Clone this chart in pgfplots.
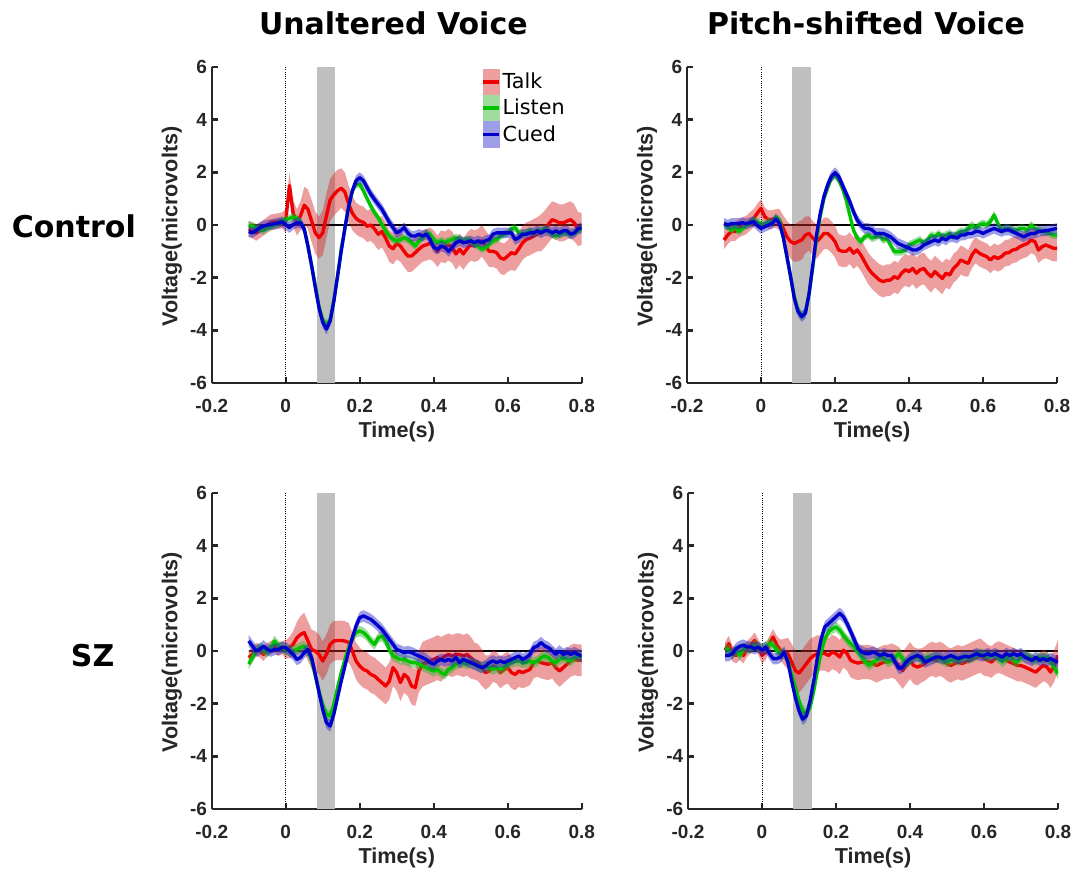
\documentclass[border=0pt]{standalone}
\usepackage{fontspec}
\setmainfont{Liberation Sans}
\newfontfamily\dejavu{DejaVu Sans}
\usepackage{pgfplots}
\pgfplotsset{compat=1.18}
\usepgfplotslibrary{fillbetween}
\usepackage{pgfplotstable}

\definecolor{axgray}{RGB}{38,38,38}
\definecolor{shade}{RGB}{191,191,191}
\definecolor{cred}{RGB}{240,0,0}
\definecolor{cgreen}{RGB}{0,195,0}
\definecolor{cblue}{RGB}{0,0,205}
\definecolor{bred}{RGB}{215,40,40}
\definecolor{bgreen}{RGB}{40,180,40}
\definecolor{bblue}{RGB}{40,40,200}

\newcommand\tickfont{\fontsize{14.25}{16}\selectfont\bfseries}
\newcommand\labfont{\fontsize{16.2}{19}\selectfont\bfseries}
\newcommand\legfont{\dejavu\fontsize{15.5}{18}\selectfont}
\newcommand\titlefont{\dejavu\bfseries\fontsize{22.5}{27}\selectfont}

% columns: time, Talk mean, Talk half-band, Listen mean, Cued mean
\pgfplotstableread{
t r re g b
-0.10 -0.15 0.30 0.00 -0.25
-0.09 -0.20 0.30 -0.05 -0.30
-0.08 -0.30 0.30 -0.10 -0.20
-0.07 -0.20 0.30 -0.15 -0.10
-0.06 -0.10 0.30 -0.22 -0.04
-0.05 0.00 0.30 -0.10 0.00
-0.04 0.10 0.30 -0.05 0.02
-0.03 0.12 0.30 0.00 0.05
-0.02 0.15 0.30 0.08 0.08
-0.01 0.18 0.30 0.15 0.12
0.00 0.15 0.45 0.20 0.02
0.01 1.50 0.50 0.25 -0.10
0.02 0.45 0.50 0.30 0.02
0.03 0.10 0.50 0.25 0.08
0.04 0.35 0.55 0.10 0.08
0.05 0.75 0.70 -0.15 -0.15
0.06 0.60 0.75 -0.80 -0.80
0.07 0.15 0.80 -1.55 -1.55
0.08 -0.30 0.80 -2.30 -2.38
0.09 -0.48 0.80 -3.10 -3.15
0.10 -0.30 0.85 -3.60 -3.70
0.11 0.35 0.85 -3.78 -3.95
0.12 0.95 0.80 -3.60 -3.65
0.13 1.15 0.80 -2.85 -2.90
0.14 1.30 0.80 -1.95 -1.95
0.15 1.40 0.75 -0.90 -1.00
0.16 1.25 0.75 -0.15 -0.10
0.17 0.80 0.70 0.70 0.70
0.18 0.45 0.65 1.30 1.30
0.19 0.25 0.60 1.55 1.68
0.20 0.15 0.60 1.55 1.80
0.21 0.10 0.60 1.30 1.68
0.22 -0.05 0.60 1.00 1.42
0.23 0.00 0.60 0.72 1.17
0.24 -0.15 0.60 0.47 0.97
0.25 -0.35 0.60 0.28 0.78
0.26 -0.25 0.60 0.02 0.60
0.27 -0.50 0.60 -0.22 0.35
0.28 -0.80 0.60 -0.42 0.10
0.29 -0.90 0.60 -0.55 -0.10
0.30 -0.70 0.60 -0.60 -0.30
0.31 -0.80 0.60 -0.55 -0.22
0.32 -1.00 0.60 -0.48 -0.10
0.33 -1.18 0.60 -0.55 -0.30
0.34 -1.18 0.60 -0.67 -0.42
0.35 -1.05 0.60 -0.80 -0.42
0.36 -0.92 0.60 -0.60 -0.35
0.37 -0.80 0.60 -0.48 -0.42
0.38 -0.75 0.60 -0.30 -0.35
0.39 -0.70 0.60 -0.35 -0.55
0.40 -0.80 0.60 -0.55 -0.85
0.41 -1.00 0.60 -0.67 -0.92
0.42 -0.80 0.60 -0.60 -0.80
0.43 -0.85 0.60 -0.67 -0.85
0.44 -0.75 0.60 -0.60 -1.00
0.45 -0.85 0.60 -0.55 -0.85
0.46 -1.10 0.60 -0.48 -0.67
0.47 -0.92 0.60 -0.55 -0.60
0.48 -1.10 0.60 -0.60 -0.67
0.49 -0.90 0.60 -0.55 -0.65
0.50 -0.75 0.60 -0.60 -0.60
0.51 -0.80 0.60 -0.73 -0.67
0.52 -0.75 0.60 -0.80 -0.60
0.53 -0.60 0.60 -0.92 -0.67
0.54 -0.80 0.60 -0.85 -0.60
0.55 -1.00 0.60 -0.73 -0.55
0.56 -1.00 0.60 -0.60 -0.35
0.57 -1.05 0.60 -0.55 -0.30
0.58 -1.25 0.60 -0.42 -0.30
0.59 -1.30 0.60 -0.35 -0.30
0.60 -1.18 0.60 -0.30 -0.30
0.61 -1.05 0.65 -0.15 -0.30
0.62 -1.10 0.65 -0.10 -0.55
0.63 -0.90 0.65 -0.30 -0.48
0.64 -0.68 0.65 -0.35 -0.35
0.65 -0.55 0.65 -0.30 -0.35
0.66 -0.50 0.65 -0.22 -0.30
0.67 -0.42 0.65 -0.30 -0.30
0.68 -0.35 0.65 -0.22 -0.22
0.69 -0.30 0.70 -0.22 -0.30
0.70 -0.15 0.70 -0.15 -0.22
0.71 0.03 0.70 -0.22 -0.22
0.72 0.20 0.70 -0.35 -0.30
0.73 0.15 0.70 -0.42 -0.22
0.74 0.08 0.70 -0.35 -0.30
0.75 0.08 0.70 -0.30 -0.22
0.76 0.15 0.70 -0.30 -0.22
0.77 0.20 0.70 -0.35 -0.35
0.78 0.08 0.70 -0.30 -0.30
0.79 -0.15 0.65 -0.22 -0.15
0.80 -0.15 0.60 -0.15 -0.10
}\TLdata

\pgfplotstableread{
t r re g b
-0.10 -0.57 0.35 0.00 0.06
-0.09 -0.38 0.35 -0.04 0.00
-0.08 -0.25 0.35 -0.20 0.06
-0.07 -0.25 0.35 -0.06 0.06
-0.06 -0.13 0.35 -0.25 0.06
-0.05 -0.06 0.35 -0.13 0.09
-0.04 0.00 0.35 0.00 0.04
-0.03 0.13 0.35 0.06 0.09
-0.02 0.25 0.35 0.20 0.13
-0.01 0.45 0.35 0.10 -0.02
0.00 0.63 0.35 0.06 -0.13
0.01 0.32 0.35 0.00 -0.06
0.02 0.20 0.35 0.13 0.00
0.03 0.22 0.35 0.06 0.06
0.04 0.25 0.35 0.30 0.22
0.05 0.20 0.40 0.20 0.06
0.06 -0.13 0.50 -0.45 -0.45
0.07 -0.45 0.60 -1.20 -1.20
0.08 -0.63 0.65 -1.96 -1.96
0.09 -0.70 0.70 -2.72 -2.78
0.10 -0.63 0.75 -3.22 -3.29
0.11 -0.57 0.75 -3.48 -3.48
0.12 -0.38 0.70 -3.30 -3.35
0.13 -0.32 0.65 -2.60 -2.60
0.14 -0.50 0.65 -1.58 -1.52
0.15 -0.63 0.65 -0.57 -0.38
0.16 -0.50 0.60 0.32 0.44
0.17 -0.32 0.60 1.00 1.08
0.18 -0.32 0.60 1.40 1.52
0.19 -0.45 0.60 1.77 1.84
0.20 -0.63 0.60 1.90 1.99
0.21 -0.95 0.60 1.70 1.84
0.22 -1.00 0.60 1.40 1.52
0.23 -1.00 0.60 0.95 1.20
0.24 -0.88 0.60 0.38 0.89
0.25 -1.07 0.60 -0.20 0.50
0.26 -0.95 0.60 -0.50 0.19
0.27 -1.14 0.60 -0.63 0.00
0.28 -1.40 0.60 -0.45 -0.13
0.29 -1.65 0.60 -0.38 -0.13
0.30 -1.83 0.60 -0.50 -0.19
0.31 -1.96 0.60 -0.45 -0.32
0.32 -2.09 0.60 -0.38 -0.32
0.33 -2.15 0.60 -0.57 -0.32
0.34 -2.10 0.60 -0.50 -0.38
0.35 -2.09 0.60 -0.76 -0.45
0.36 -1.96 0.60 -1.01 -0.57
0.37 -2.03 0.60 -1.01 -0.70
0.38 -1.83 0.60 -1.01 -0.76
0.39 -1.70 0.60 -0.95 -0.82
0.40 -1.77 0.60 -0.76 -0.88
0.41 -1.65 0.60 -0.70 -0.95
0.42 -1.83 0.60 -0.63 -0.95
0.43 -1.70 0.60 -0.57 -0.88
0.44 -1.65 0.60 -0.70 -0.76
0.45 -1.83 0.60 -0.57 -0.70
0.46 -1.96 0.60 -0.38 -0.63
0.47 -1.77 0.60 -0.45 -0.57
0.48 -1.90 0.60 -0.32 -0.63
0.49 -2.03 0.60 -0.45 -0.50
0.50 -1.83 0.55 -0.38 -0.57
0.51 -1.90 0.55 -0.32 -0.45
0.52 -1.65 0.55 -0.45 -0.45
0.53 -1.52 0.55 -0.32 -0.50
0.54 -1.33 0.55 -0.25 -0.38
0.55 -1.40 0.55 -0.25 -0.38
0.56 -1.46 0.50 -0.13 -0.32
0.57 -1.14 0.50 0.00 -0.32
0.58 -0.95 0.50 -0.13 -0.25
0.59 -1.07 0.50 0.00 -0.25
0.60 -1.14 0.50 0.06 -0.32
0.61 -1.20 0.50 0.00 -0.25
0.62 -1.33 0.50 0.13 -0.19
0.63 -1.20 0.50 0.38 -0.13
0.64 -1.27 0.50 0.06 -0.19
0.65 -1.20 0.50 -0.20 -0.25
0.66 -1.07 0.50 -0.13 -0.19
0.67 -1.05 0.50 -0.13 -0.19
0.68 -0.95 0.50 -0.20 -0.25
0.69 -0.92 0.50 -0.20 -0.32
0.70 -0.82 0.50 -0.13 -0.38
0.71 -0.76 0.50 -0.13 -0.45
0.72 -0.70 0.50 -0.20 -0.38
0.73 -0.57 0.50 0.00 -0.32
0.74 -0.63 0.50 -0.13 -0.32
0.75 -0.95 0.50 -0.20 -0.25
0.76 -0.82 0.50 -0.25 -0.23
0.77 -0.76 0.50 -0.25 -0.22
0.78 -0.82 0.50 -0.32 -0.19
0.79 -0.88 0.50 -0.38 -0.16
0.80 -0.88 0.50 -0.38 -0.13
}\TRdata

\pgfplotstableread{
t r re g b
-0.10 -0.25 0.25 -0.50 0.38
-0.09 -0.13 0.25 -0.25 0.19
-0.08 0.06 0.25 0.00 0.00
-0.07 0.00 0.25 0.13 0.06
-0.06 -0.13 0.25 0.06 0.19
-0.05 0.06 0.25 -0.06 0.06
-0.04 0.13 0.25 0.13 0.00
-0.03 0.19 0.25 0.38 0.06
-0.02 0.06 0.25 0.19 0.06
-0.01 0.13 0.25 0.13 0.13
0.00 0.06 0.35 0.06 0.13
0.01 0.13 0.40 0.00 0.00
0.02 0.25 0.50 0.00 -0.13
0.03 0.50 0.60 0.06 -0.32
0.04 0.63 0.70 0.13 -0.25
0.05 0.70 0.75 0.19 -0.06
0.06 0.38 0.75 0.00 0.06
0.07 0.06 0.75 -0.38 -0.25
0.08 0.00 0.75 -0.95 -0.89
0.09 -0.13 0.75 -1.52 -1.58
0.10 -0.38 0.75 -2.03 -2.22
0.11 -0.13 0.75 -2.40 -2.72
0.12 0.25 0.75 -2.47 -2.85
0.13 0.38 0.75 -2.03 -2.40
0.14 0.40 0.75 -1.39 -1.77
0.15 0.40 0.75 -0.82 -1.14
0.16 0.38 0.75 -0.32 -0.57
0.17 0.32 0.75 0.13 0.00
0.18 0.00 0.70 0.50 0.50
0.19 -0.38 0.70 0.70 0.95
0.20 -0.57 0.70 0.76 1.27
0.21 -0.70 0.70 0.70 1.33
0.22 -0.76 0.70 0.57 1.27
0.23 -0.89 0.70 0.38 1.20
0.24 -0.95 0.70 0.25 1.08
0.25 -1.08 0.70 0.50 0.95
0.26 -1.20 0.70 0.57 0.82
0.27 -1.33 0.70 0.38 0.63
0.28 -1.14 0.70 0.06 0.44
0.29 -0.63 0.70 -0.19 0.25
0.30 -0.82 0.70 -0.25 0.06
0.31 -1.20 0.70 -0.32 0.00
0.32 -0.89 0.70 -0.32 -0.06
0.33 -1.01 0.70 -0.38 -0.03
0.34 -1.33 0.70 -0.44 -0.06
0.35 -1.39 0.70 -0.44 -0.13
0.36 -0.76 0.80 -0.50 -0.19
0.37 -0.50 0.85 -0.57 -0.25
0.38 -0.44 0.85 -0.63 -0.32
0.39 -0.38 0.85 -0.70 -0.44
0.40 -0.32 0.85 -0.76 -0.50
0.41 -0.25 0.85 -0.70 -0.38
0.42 -0.32 0.85 -0.82 -0.32
0.43 -0.19 0.80 -0.89 -0.38
0.44 -0.13 0.80 -0.70 -0.32
0.45 -0.19 0.80 -0.63 -0.38
0.46 -0.13 0.80 -0.50 -0.25
0.47 -0.13 0.80 -0.44 -0.44
0.48 -0.19 0.80 -0.44 -0.32
0.49 -0.13 0.80 -0.50 -0.38
0.50 -0.25 0.80 -0.44 -0.44
0.51 -0.38 0.70 -0.50 -0.50
0.52 -0.44 0.70 -0.57 -0.57
0.53 -0.63 0.70 -0.63 -0.63
0.54 -0.82 0.65 -0.57 -0.57
0.55 -0.76 0.60 -0.63 -0.44
0.56 -0.57 0.60 -0.70 -0.38
0.57 -0.63 0.60 -0.63 -0.44
0.58 -0.82 0.60 -0.70 -0.38
0.59 -0.70 0.60 -0.63 -0.44
0.60 -0.63 0.60 -0.50 -0.38
0.61 -0.82 0.60 -0.44 -0.32
0.62 -0.89 0.60 -0.38 -0.25
0.63 -0.76 0.60 -0.38 -0.19
0.64 -0.82 0.60 -0.44 -0.32
0.65 -0.76 0.60 -0.44 -0.25
0.66 -0.70 0.60 -0.38 -0.13
0.67 -0.44 0.60 -0.44 0.13
0.68 -0.38 0.60 -0.38 0.19
0.69 -0.44 0.60 -0.25 0.32
0.70 -0.48 0.60 -0.19 0.19
0.71 -0.50 0.60 -0.25 0.13
0.72 -0.44 0.60 -0.38 0.00
0.73 -0.63 0.60 -0.44 -0.13
0.74 -0.76 0.60 -0.32 0.00
0.75 -0.63 0.60 -0.25 -0.13
0.76 -0.50 0.60 -0.32 -0.06
0.77 -0.38 0.60 -0.38 -0.13
0.78 -0.32 0.60 -0.25 -0.06
0.79 -0.35 0.60 -0.19 -0.13
0.80 -0.35 0.60 -0.25 -0.19
}\BLdata

\pgfplotstableread{
t r re g b
-0.10 0.03 0.30 0.09 -0.17
-0.09 0.28 0.30 0.03 -0.17
-0.08 -0.10 0.30 -0.10 -0.10
-0.07 -0.17 0.30 0.03 0.09
-0.06 -0.04 0.30 -0.17 0.18
-0.05 -0.17 0.30 0.09 0.22
-0.04 0.09 0.30 0.15 0.15
-0.03 0.22 0.30 0.09 0.15
-0.02 0.40 0.30 0.22 0.09
-0.01 0.15 0.30 0.15 0.15
0.00 -0.17 0.30 0.09 0.03
0.01 -0.04 0.30 0.15 0.15
0.02 0.28 0.30 0.28 -0.10
0.03 0.53 0.30 0.22 -0.29
0.04 0.22 0.35 0.03 -0.29
0.05 0.03 0.40 -0.10 -0.23
0.06 -0.04 0.50 -0.10 -0.04
0.07 -0.10 0.60 -0.36 -0.42
0.08 -0.42 0.70 -0.87 -1.12
0.09 -0.74 0.75 -1.38 -1.76
0.10 -0.84 0.75 -1.89 -2.27
0.11 -0.67 0.75 -2.27 -2.59
0.12 -0.48 0.75 -2.40 -2.46
0.13 -0.29 0.75 -2.14 -1.89
0.14 -0.17 0.70 -1.50 -1.12
0.15 -0.10 0.70 -0.74 -0.23
0.16 -0.08 0.65 -0.04 0.47
0.17 -0.10 0.65 0.47 0.92
0.18 -0.17 0.65 0.73 1.04
0.19 -0.04 0.65 0.85 1.17
0.20 -0.10 0.65 0.92 1.30
0.21 -0.23 0.65 0.79 1.43
0.22 0.03 0.65 0.60 1.30
0.23 -0.10 0.65 0.41 1.04
0.24 -0.36 0.65 0.28 0.73
0.25 -0.42 0.65 0.15 0.41
0.26 -0.46 0.65 -0.04 0.09
0.27 -0.42 0.65 -0.23 -0.04
0.28 -0.42 0.65 -0.42 -0.10
0.29 -0.42 0.65 -0.55 -0.10
0.30 -0.48 0.65 -0.42 -0.04
0.31 -0.55 0.65 -0.36 -0.10
0.32 -0.48 0.65 -0.17 -0.17
0.33 -0.42 0.65 -0.29 -0.10
0.34 -0.42 0.65 -0.42 -0.17
0.35 -0.36 0.65 -0.36 -0.17
0.36 -0.42 0.65 -0.23 -0.42
0.37 -0.55 0.70 -0.10 -0.67
0.38 -0.74 0.70 -0.29 -0.61
0.39 -0.55 0.70 -0.48 -0.42
0.40 -0.36 0.70 -0.36 -0.29
0.41 -0.55 0.70 -0.23 -0.23
0.42 -0.61 0.70 -0.17 -0.17
0.43 -0.55 0.65 -0.36 -0.23
0.44 -0.48 0.65 -0.29 -0.42
0.45 -0.36 0.65 -0.23 -0.36
0.46 -0.29 0.65 -0.29 -0.29
0.47 -0.36 0.65 -0.23 -0.23
0.48 -0.29 0.65 -0.29 -0.23
0.49 -0.36 0.65 -0.36 -0.29
0.50 -0.48 0.65 -0.42 -0.23
0.51 -0.55 0.65 -0.36 -0.17
0.52 -0.48 0.65 -0.29 -0.23
0.53 -0.42 0.65 -0.36 -0.29
0.54 -0.48 0.65 -0.29 -0.23
0.55 -0.42 0.65 -0.23 -0.20
0.56 -0.36 0.65 -0.29 -0.23
0.57 -0.29 0.65 -0.23 -0.17
0.58 -0.23 0.65 -0.17 -0.10
0.59 -0.17 0.65 -0.10 -0.17
0.60 -0.29 0.65 -0.17 -0.17
0.61 -0.36 0.60 -0.23 -0.10
0.62 -0.42 0.60 -0.17 -0.17
0.63 -0.29 0.60 -0.17 -0.10
0.64 -0.23 0.60 -0.29 -0.17
0.65 -0.29 0.60 -0.42 -0.23
0.66 -0.36 0.60 -0.29 -0.10
0.67 -0.42 0.60 -0.17 -0.17
0.68 -0.48 0.60 -0.36 -0.10
0.69 -0.55 0.60 -0.42 -0.17
0.70 -0.55 0.60 -0.23 -0.10
0.71 -0.61 0.60 -0.17 -0.23
0.72 -0.67 0.60 -0.23 -0.29
0.73 -0.74 0.60 -0.29 -0.36
0.74 -0.80 0.60 -0.36 -0.23
0.75 -0.67 0.60 -0.23 -0.36
0.76 -0.55 0.60 -0.29 -0.29
0.77 -0.61 0.60 -0.23 -0.36
0.78 -0.80 0.60 -0.42 -0.29
0.79 -0.55 0.60 -0.61 -0.36
0.80 -0.17 0.60 -0.87 -0.42
}\BRdata

\tikzset{fill between/on layer=main}

\pgfplotsset{panel/.style={
  scale only axis, width=277.5pt, height=237pt, anchor=south west,
  xmin=-0.2, xmax=0.8, ymin=-6, ymax=6,
  axis lines=left, axis line style={-, line width=1.8pt, draw=axgray},
  tick align=inside, major tick length=4.5pt,
  tick style={line width=1.8pt, draw=axgray},
  xtick={-0.2,0,0.2,0.4,0.6,0.8}, xticklabels={-0.2,0,0.2,0.4,0.6,0.8},
  ytick={-6,-4,-2,0,2,4,6}, yticklabels={-6,-4,-2,0,2,4,6},
  tick label style={font=\tickfont, text=axgray},
  xticklabel style={yshift=-9pt},
  xlabel={Time(s)}, ylabel={Voltage(microvolts)},
  xlabel style={font=\labfont, text=axgray, at={(axis description cs:0.5,0)}, anchor=base, yshift=-40.7pt},
  ylabel style={font=\labfont, text=axgray, at={(axis description cs:-0.093,0.495)}, anchor=base},
}}

% #1 data table, #2 Listen half-band, #3 Cued half-band
\newcommand\traces[3]{%
  \addplot[fill=shade, draw=none, forget plot] coordinates {(0.085,-6) (0.134,-6) (0.134,6) (0.085,6)} -- cycle;
  \addplot[black, densely dotted, line width=0.7pt, forget plot] coordinates {(0,-6) (0,6)};
  \addplot[black, line width=1pt, forget plot] coordinates {(-0.1,0) (0.8,0)};
  \addplot[name path=ru, draw=none, forget plot] table[x=t, y expr=\thisrow{r}+\thisrow{re}] {#1};
  \addplot[name path=rl, draw=none, forget plot] table[x=t, y expr=\thisrow{r}-\thisrow{re}] {#1};
  \addplot[fill=bred, fill opacity=0.45, draw=none, forget plot] fill between[of=ru and rl];
  \addplot[cred, line width=2.5pt, line join=round, forget plot] table[x=t, y=r] {#1};
  \addplot[name path=gu, draw=none, forget plot] table[x=t, y expr=\thisrow{g}+#2] {#1};
  \addplot[name path=gl, draw=none, forget plot] table[x=t, y expr=\thisrow{g}-#2] {#1};
  \addplot[fill=bgreen, fill opacity=0.45, draw=none, forget plot] fill between[of=gu and gl];
  \addplot[cgreen, line width=2.5pt, line join=round, forget plot] table[x=t, y=g] {#1};
  \addplot[name path=bu, draw=none, forget plot] table[x=t, y expr=\thisrow{b}+#3] {#1};
  \addplot[name path=bl, draw=none, forget plot] table[x=t, y expr=\thisrow{b}-#3] {#1};
  \addplot[fill=bblue, fill opacity=0.45, draw=none, forget plot] fill between[of=bu and bl];
  \addplot[cblue, line width=2.5pt, line join=round, forget plot] table[x=t, y=b] {#1};
}

\begin{document}
\begin{tikzpicture}

\begin{axis}[panel, at={(158.8pt,363.75pt)},
  legend style={at={(0.728,0.995)}, anchor=north west, draw=none, fill=none,
    font=\legfont, inner sep=0pt, row sep=0pt, nodes={inner sep=1.5pt}},
  legend cell align=left]
\traces{\TLdata}{0.15}{0.2}
\addlegendimage{legend image code/.code={\fill[bred!45!white] (0pt,-9.6pt) rectangle (12pt,9.6pt); \draw[cred, line width=2.5pt] (0pt,0pt) -- (12pt,0pt);}}
\addlegendentry{Talk}
\addlegendimage{legend image code/.code={\fill[bgreen!45!white] (0pt,-9.6pt) rectangle (12pt,9.6pt); \draw[cgreen, line width=2.5pt] (0pt,0pt) -- (12pt,0pt);}}
\addlegendentry{Listen}
\addlegendimage{legend image code/.code={\fill[bblue!45!white] (0pt,-9.6pt) rectangle (12pt,9.6pt); \draw[cblue, line width=2.5pt] (0pt,0pt) -- (12pt,0pt);}}
\addlegendentry{Cued}
\end{axis}

\begin{axis}[panel, at={(515.25pt,363.75pt)}]
\traces{\TRdata}{0.15}{0.2}
\end{axis}

\begin{axis}[panel, at={(158.8pt,44.25pt)}]
\traces{\BLdata}{0.2}{0.22}
\end{axis}

\begin{axis}[panel, at={(516pt,44.25pt)}]
\traces{\BRdata}{0.2}{0.22}
\end{axis}

\node[font=\titlefont, anchor=base] at (294.98pt,624.75pt) {Unaltered Voice};
\node[font=\titlefont, anchor=base] at (649.5pt,624.75pt) {Pitch-shifted Voice};
\node[font=\titlefont, anchor=base] at (55.4pt,473pt) {Control};
\node[font=\titlefont, anchor=base] at (69.5pt,151.5pt) {SZ};

\pgfresetboundingbox
\useasboundingbox (0,0) rectangle (807.75pt,651pt);
\end{tikzpicture}
\end{document}
